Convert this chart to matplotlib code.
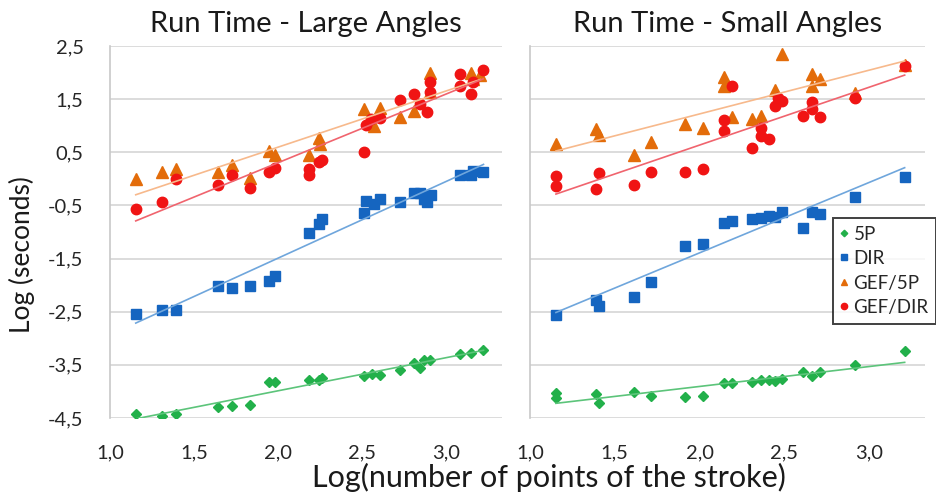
import numpy as np
import matplotlib.pyplot as plt
from matplotlib.ticker import FixedLocator, FuncFormatter

plt.rcParams['font.family'] = ['Lato', 'DejaVu Sans']

series_names = ['5P', 'DIR', 'GEF/5P', 'GEF/DIR']

# Run Time - Large Angles
large_5p_x = [1.153, 1.31, 1.39, 1.644, 1.724, 1.833, 1.948, 1.98, 2.18, 2.24, 2.26,
              2.508, 2.56, 2.607, 2.726, 2.805, 2.845, 2.865, 2.905, 3.083, 3.143, 3.22]
large_5p_y = [-4.43, -4.46, -4.43, -4.30, -4.27, -4.25, -3.83, -3.83, -3.78, -3.78, -3.74,
              -3.71, -3.68, -3.70, -3.60, -3.46, -3.55, -3.41, -3.40, -3.30, -3.27, -3.22]
large_dir_x = [1.153, 1.31, 1.39, 1.644, 1.724, 1.833, 1.948, 1.98, 2.18, 2.24, 2.26, 2.508, 2.52,
               2.567, 2.607, 2.726, 2.805, 2.845, 2.865, 2.885, 2.91, 3.083, 3.143, 3.16, 3.22]
large_dir_y = [-2.55, -2.47, -2.47, -2.01, -2.06, -2.01, -1.92, -1.83, -1.01, -0.85, -0.76, -0.65, -0.41,
               -0.48, -0.37, -0.44, -0.26, -0.26, -0.38, -0.44, -0.31, 0.07, 0.07, 0.15, 0.12]
large_gef5p_x = [1.153, 1.31, 1.39, 1.644, 1.724, 1.833, 1.948, 1.98, 2.18, 2.24, 2.25,
                 2.508, 2.567, 2.607, 2.726, 2.805, 2.905, 2.905, 3.143, 3.16, 3.2]
large_gef5p_y = [0.00, 0.13, 0.18, 0.13, 0.26, 0.01, 0.53, 0.45, 0.45, 0.76, 0.65,
                 1.31, 1.00, 1.33, 1.16, 1.28, 2.00, 1.63, 2.00, 1.88, 1.95]
large_gefdir_x = [1.153, 1.31, 1.39, 1.644, 1.724, 1.833, 1.948, 1.98, 2.18, 2.18, 2.24, 2.26, 2.508, 2.52,
                  2.55, 2.607, 2.726, 2.805, 2.845, 2.885, 2.905, 2.905, 3.083, 3.083, 3.143, 3.16, 3.218]
large_gefdir_y = [-0.57, -0.43, 0.00, -0.12, 0.07, -0.18, 0.12, 0.20, 0.18, 0.08, 0.31, 0.36, 0.51, 1.01,
                  1.13, 1.14, 1.49, 1.59, 1.41, 1.26, 1.82, 1.63, 1.97, 1.74, 1.60, 1.82, 2.05]

# Run Time - Small Angles
small_5p_x = [1.153, 1.153, 1.388, 1.408, 1.614, 1.712, 1.916, 2.02, 2.147, 2.19,
              2.31, 2.363, 2.41, 2.447, 2.486, 2.612, 2.663, 2.71, 2.918, 3.21]
small_5p_y = [-4.03, -4.12, -4.05, -4.21, -4.02, -4.09, -4.10, -4.09, -3.85, -3.85,
              -3.82, -3.78, -3.78, -3.80, -3.76, -3.63, -3.71, -3.63, -3.51, -3.24]
small_dir_x = [1.153, 1.388, 1.408, 1.614, 1.712, 1.916, 2.02, 2.147, 2.19, 2.31,
               2.363, 2.41, 2.447, 2.486, 2.612, 2.663, 2.71, 2.918, 3.21]
small_dir_y = [-2.57, -2.28, -2.40, -2.23, -1.95, -1.26, -1.22, -0.84, -0.79, -0.75,
               -0.73, -0.70, -0.71, -0.63, -0.93, -0.63, -0.66, -0.35, 0.04]
small_gef5p_x = [1.153, 1.388, 1.408, 1.614, 1.712, 1.916, 2.02, 2.147, 2.147, 2.19,
                 2.31, 2.363, 2.447, 2.486, 2.663, 2.663, 2.71, 2.918, 3.21]
small_gef5p_y = [0.65, 0.94, 0.82, 0.45, 0.69, 1.03, 0.95, 1.91, 1.75, 1.17,
                 1.13, 1.18, 1.67, 2.35, 1.97, 1.75, 1.88, 1.62, 2.15]
small_gefdir_x = [1.153, 1.153, 1.388, 1.408, 1.614, 1.712, 1.916, 2.02, 2.147, 2.147, 2.19, 2.31,
                  2.363, 2.363, 2.412, 2.447, 2.46, 2.486, 2.612, 2.663, 2.663, 2.71, 2.918, 3.21]
small_gefdir_y = [0.06, -0.13, -0.19, 0.11, -0.12, 0.12, 0.13, 0.18, 1.11, 0.90, 1.74, 0.58,
                  0.95, 0.80, 0.75, 1.38, 1.53, 1.47, 1.18, 1.44, 1.31, 1.16, 1.53, 2.12]

y_ticks = [-4.5, -3.5, -2.5, -1.5, -0.5, 0.5, 1.5, 2.5]
x_ticks = [1.0, 1.5, 2.0, 2.5, 3.0]

marker_colors = ['#22b04a', '#1565c0', '#e36c0a', '#f01414']
line_colors = ['#5cc47a', '#6fa6dc', '#f7b98c', '#f0646e']
markers = ['D', 's', '^', 'o']
marker_sizes = [5.5, 7, 8, 7.5]

panels = [
    ('Run Time - Large Angles',
     [(large_5p_x, large_5p_y), (large_dir_x, large_dir_y),
      (large_gef5p_x, large_gef5p_y), (large_gefdir_x, large_gefdir_y)]),
    ('Run Time - Small Angles',
     [(small_5p_x, small_5p_y), (small_dir_x, small_dir_y),
      (small_gef5p_x, small_gef5p_y), (small_gefdir_x, small_gefdir_y)]),
]

comma = FuncFormatter(lambda v, pos: f'{v:.1f}'.replace('.', ','))

fig = plt.figure(figsize=(9.36, 4.95), dpi=100)
ax_l = fig.add_axes([110 / 936, 1 - 418 / 495, 392 / 936, 372 / 495])
ax_r = fig.add_axes([530 / 936, 1 - 418 / 495, 395 / 936, 372 / 495])

handles = []
for ax, (title, data) in zip([ax_l, ax_r], panels):
    for i, (xs, ys) in enumerate(data):
        h, = ax.plot(xs, ys, linestyle='none', marker=markers[i], ms=marker_sizes[i],
                     color=marker_colors[i], mec=marker_colors[i], zorder=3 + i,
                     label=series_names[i])
        if ax is ax_l:
            handles.append(h)
    # linear trend lines
    for i, (xs, ys) in enumerate(data):
        k, b = np.polyfit(xs, ys, 1)
        xe = np.array([min(xs), max(xs)])
        ax.plot(xe, k * xe + b, color=line_colors[i], lw=1.2, zorder=8)

    ax.set_xlim(1.0, 3.33)
    ax.set_ylim(-4.5, 2.5)
    ax.yaxis.set_major_locator(FixedLocator(y_ticks))
    ax.xaxis.set_major_locator(FixedLocator(x_ticks))
    ax.xaxis.set_major_formatter(comma)
    ax.yaxis.set_major_formatter(comma)
    ax.grid(axis='y', color='#d9d9d9', lw=1.3, zorder=0)
    ax.set_axisbelow(True)
    for s in ['top', 'right', 'bottom']:
        ax.spines[s].set_visible(False)
    ax.spines['left'].set_color('#c8c8c8')
    ax.spines['left'].set_linewidth(1.2)
    ax.tick_params(length=0, labelsize=14.5, labelcolor='#262626')
    ax.tick_params(axis='x', pad=19)
    ax.tick_params(axis='y', pad=19)
    ax.set_title(title, fontsize=21, color='#1a1a1a', pad=10)

ax_r.tick_params(axis='y', labelleft=False)

fig.text(549 / 936, 1 - 487 / 495, 'Log(number of points of the stroke)', fontsize=22,
         ha='center', va='baseline', color='#1a1a1a')
fig.text(22 / 936, 1 - 255 / 495, 'Log (seconds)', fontsize=19, rotation=90,
         ha='center', va='center', color='#1a1a1a')

leg = fig.legend(handles=handles, loc='upper left', bbox_to_anchor=(833 / 936, 1 - 218 / 495),
                 fontsize=13.5, markerscale=0.6, handlelength=0.4, handletextpad=0.3,
                 labelspacing=0.4, borderpad=0.4, frameon=True, fancybox=False,
                 borderaxespad=0)
leg.get_frame().set_edgecolor('#111111')
leg.get_frame().set_linewidth(1.4)
for t in leg.get_texts():
    t.set_color('#262626')

fig.savefig('out.png', dpi=100)
